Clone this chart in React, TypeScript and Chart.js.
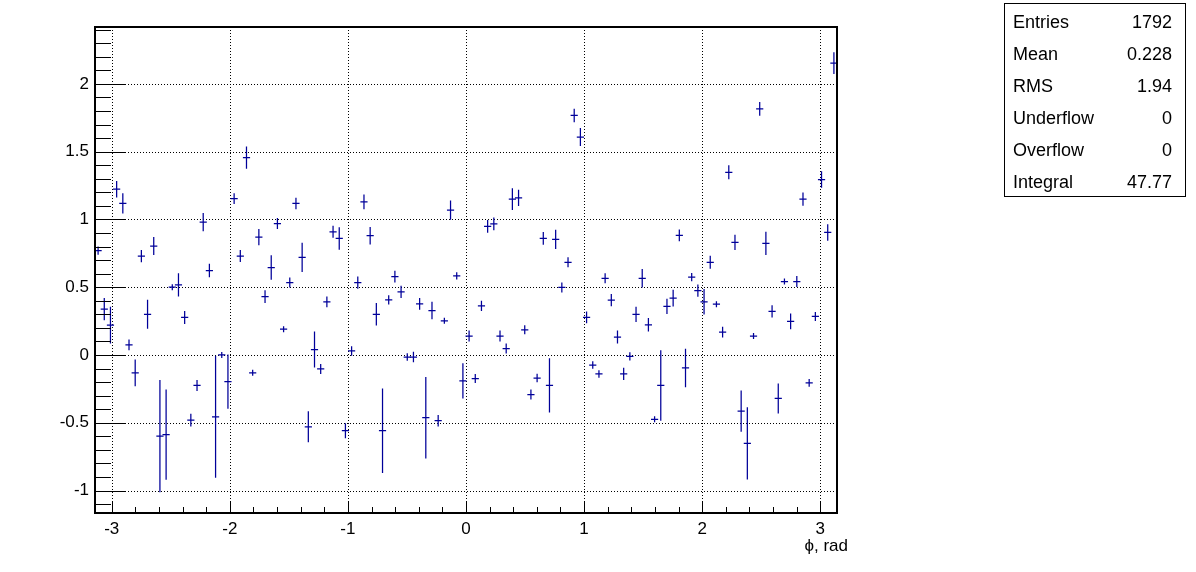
import React, { useEffect, useRef } from "react";
import { Chart, registerables } from "chart.js";

Chart.register(...registerables);

// Histogram binning (120 bins over -pi..pi)
const NBINS = 120;
const PHI_MIN = -Math.PI;
const PHI_MAX = Math.PI;

// Axis tick labels
const xTickValues = [-3, -2, -1, 0, 1, 2, 3];
const yTickValues = [-1, -0.5, 0, 0.5, 1, 1.5, 2];
const Y_MIN = -1.166;
const Y_MAX = 2.42;

// Bin contents
const binValues = [
  0.77, 0.338, 0.22, 1.223, 1.118, 0.074, -0.132, 0.73, 0.3, 0.804,
  -0.598, -0.588, 0.5, 0.517, 0.277, -0.48, -0.225, 0.98, 0.623, -0.456,
  0.0, -0.196, 1.154, 0.73, 1.456, -0.132, 0.87, 0.431, 0.645, 0.97,
  0.19, 0.534, 1.118, 0.72, -0.53, 0.04, -0.103, 0.392, 0.909, 0.86,
  -0.559, 0.03, 0.534, 1.13, 0.88, 0.3, -0.559, 0.407, 0.578, 0.466,
  -0.015, -0.015, 0.377, -0.463, 0.328, -0.485, 0.252, 1.069, 0.583, -0.191,
  0.14, -0.174, 0.363, 0.949, 0.968, 0.14, 0.047, 1.15, 1.16, 0.186,
  -0.292, -0.17, 0.86, -0.225, 0.853, 0.498, 0.684, 1.767, 1.608, 0.277,
  -0.074, -0.14, 0.566, 0.404, 0.132, -0.14, -0.01, 0.3, 0.566, 0.223,
  -0.475, -0.225, 0.358, 0.42, 0.882, -0.096, 0.574, 0.475, 0.392, 0.684,
  0.375, 0.169, 1.348, 0.831, -0.414, -0.652, 0.14, 1.816, 0.824, 0.321,
  -0.321, 0.542, 0.248, 0.542, 1.15, -0.206, 0.284, 1.294, 0.904, 2.154,
];

// Bin errors
const binErrors = [
  0.03, 0.082, 0.135, 0.061, 0.075, 0.04, 0.098, 0.045, 0.107, 0.066,
  0.414, 0.333, 0.02, 0.086, 0.048, 0.047, 0.04, 0.067, 0.05, 0.45,
  0.02, 0.2, 0.04, 0.044, 0.082, 0.02, 0.06, 0.047, 0.09, 0.04,
  0.02, 0.037, 0.043, 0.108, 0.114, 0.133, 0.037, 0.04, 0.044, 0.083,
  0.056, 0.035, 0.045, 0.055, 0.065, 0.083, 0.311, 0.034, 0.044, 0.045,
  0.027, 0.038, 0.043, 0.3, 0.065, 0.043, 0.02, 0.071, 0.027, 0.13,
  0.04, 0.033, 0.038, 0.047, 0.047, 0.04, 0.037, 0.08, 0.06, 0.033,
  0.037, 0.032, 0.047, 0.2, 0.071, 0.037, 0.037, 0.05, 0.066, 0.043,
  0.028, 0.028, 0.037, 0.045, 0.048, 0.045, 0.03, 0.056, 0.069, 0.049,
  0.02, 0.26, 0.056, 0.062, 0.043, 0.142, 0.03, 0.045, 0.094, 0.048,
  0.02, 0.04, 0.052, 0.057, 0.152, 0.266, 0.02, 0.05, 0.086, 0.045,
  0.11, 0.02, 0.058, 0.04, 0.049, 0.028, 0.034, 0.061, 0.061, 0.08,
];

// Stats box
const statsLabels = ["Entries", "Mean", "RMS", "Underflow", "Overflow", "Integral"];
const statsValues = ["1792", "0.228", "1.94", "0", "0", "47.77"];

const X_TITLE = "\u03D5, rad";
const MARK_COLOR = "#000099";
const FONT = '"Liberation Sans", Arial, Helvetica, sans-serif';

const BIN_W = (PHI_MAX - PHI_MIN) / NBINS;
const binCenters = binValues.map((_, i) => PHI_MIN + (i + 0.5) * BIN_W);

const rootPlugin = {
  id: "rootStyle",
  beforeDatasetsDraw(chart: any) {
    const { ctx, chartArea: a, scales } = chart;
    const xs = scales.x;
    const ys = scales.y;
    ctx.save();
    ctx.strokeStyle = "#000";
    ctx.lineWidth = 1;
    ctx.setLineDash([1, 2]);
    ctx.beginPath();
    for (const v of xTickValues) {
      const px = Math.round(xs.getPixelForValue(v)) + 0.5;
      ctx.moveTo(px, a.top);
      ctx.lineTo(px, a.bottom);
    }
    for (const v of yTickValues) {
      const py = Math.round(ys.getPixelForValue(v)) + 0.5;
      ctx.moveTo(a.left, py);
      ctx.lineTo(a.right, py);
    }
    ctx.stroke();
    ctx.restore();
  },
  afterDatasetsDraw(chart: any) {
    const { ctx, chartArea: a, scales } = chart;
    const xs = scales.x;
    const ys = scales.y;
    ctx.save();
    ctx.beginPath();
    ctx.rect(a.left, a.top, a.right - a.left, a.bottom - a.top);
    ctx.clip();
    ctx.strokeStyle = MARK_COLOR;
    ctx.lineWidth = 1.25;
    const data = chart.data.datasets[0].data;
    data.forEach((p: any, i: number) => {
      const err = binErrors[i];
      const cx = xs.getPixelForValue(p.x);
      const cy = ys.getPixelForValue(p.y);
      const x0 = xs.getPixelForValue(p.x - BIN_W / 2);
      const x1 = xs.getPixelForValue(p.x + BIN_W / 2);
      const yTop = ys.getPixelForValue(p.y + err);
      const yBot = ys.getPixelForValue(p.y - err);
      ctx.beginPath();
      ctx.moveTo(x0 - 0.5, cy);
      ctx.lineTo(x1 + 0.5, cy);
      ctx.moveTo(cx, Math.min(yTop, cy - 3));
      ctx.lineTo(cx, Math.max(yBot, cy + 3));
      ctx.stroke();
    });
    ctx.restore();
  },
  afterDraw(chart: any) {
    const { ctx, chartArea: a, scales } = chart;
    const xs = scales.x;
    const ys = scales.y;
    ctx.save();
    ctx.strokeStyle = "#000";
    ctx.lineWidth = 1;
    ctx.beginPath();
    // y ticks: major every 0.5, minor every 0.1
    for (let k = -12; k <= 25; k++) {
      const v = k / 10;
      if (v < Y_MIN || v > Y_MAX) continue;
      const py = Math.round(ys.getPixelForValue(v)) + 0.5;
      const len = k % 5 === 0 ? 30 : 16;
      ctx.moveTo(a.left, py);
      ctx.lineTo(a.left + len, py);
    }
    // x ticks: major every 1, minor every 0.2
    for (let k = -16; k <= 16; k++) {
      const v = k / 5;
      if (v < PHI_MIN || v > PHI_MAX) continue;
      const px = Math.round(xs.getPixelForValue(v)) + 0.5;
      const len = k % 5 === 0 ? 12 : 6;
      ctx.moveTo(px, a.bottom);
      ctx.lineTo(px, a.bottom - len);
    }
    ctx.stroke();
    // frame
    ctx.lineWidth = 2;
    ctx.strokeRect(a.left, a.top, a.right - a.left, a.bottom - a.top);
    // x title
    ctx.fillStyle = "#000";
    ctx.font = `17px ${FONT}`;
    ctx.textAlign = "right";
    ctx.textBaseline = "alphabetic";
    ctx.fillText(X_TITLE, a.right + 11, a.bottom + 38);
    ctx.restore();
  },
};

export default function App() {
  const ref = useRef<HTMLCanvasElement>(null);

  useEffect(() => {
    document.body.style.margin = "0";
    const canvas = ref.current;
    if (!canvas) return;
    const chart = new Chart(canvas, {
      type: "scatter",
      data: {
        datasets: [
          {
            data: binValues.map((v, i) => ({ x: binCenters[i], y: v })),
            pointRadius: 0,
            pointHoverRadius: 0,
            showLine: false,
            borderColor: MARK_COLOR,
            backgroundColor: MARK_COLOR,
          },
        ],
      },
      options: {
        responsive: false,
        animation: false,
        events: [],
        layout: { padding: { left: 0, top: 27, right: 359, bottom: 0 } },
        plugins: { legend: { display: false }, tooltip: { enabled: false } },
        scales: {
          x: {
            type: "linear",
            min: PHI_MIN,
            max: PHI_MAX,
            afterBuildTicks: (s: any) => {
              s.ticks = xTickValues.map((v) => ({ value: v }));
            },
            afterFit: (s: any) => {
              s.height = 59;
            },
            grid: { display: false, drawTicks: false },
            border: { display: false },
            ticks: {
              autoSkip: false,
              maxRotation: 0,
              padding: 6,
              color: "#000",
              font: { family: FONT, size: 17 },
              callback: (v: any) => String(v),
            },
          },
          y: {
            type: "linear",
            min: Y_MIN,
            max: Y_MAX,
            afterBuildTicks: (s: any) => {
              s.ticks = yTickValues.map((v) => ({ value: v }));
            },
            afterFit: (s: any) => {
              s.width = 95;
            },
            grid: { display: false, drawTicks: false },
            border: { display: false },
            ticks: {
              autoSkip: false,
              padding: 6,
              color: "#000",
              font: { family: FONT, size: 17 },
              callback: (v: any) => String(v),
            },
          },
        },
      },
      plugins: [rootPlugin],
    });
    return () => chart.destroy();
  }, []);

  return (
    <div
      style={{
        position: "relative",
        width: 1196,
        height: 572,
        background: "#fff",
        fontFamily: FONT,
        overflow: "hidden",
      }}
    >
      <canvas
        ref={ref}
        width={1196}
        height={572}
        style={{ position: "absolute", left: 0, top: 0, width: 1196, height: 572 }}
      />
      <div
        style={{
          position: "absolute",
          left: 1004,
          top: 3,
          width: 182,
          height: 194,
          border: "1px solid #000",
          boxSizing: "border-box",
          background: "#fff",
        }}
      >
        {statsLabels.map((label, i) => (
          <div
            key={label}
            style={{
              position: "absolute",
              left: 8,
              right: 13,
              top: 2 + i * 32,
              height: 32,
              display: "flex",
              justifyContent: "space-between",
              alignItems: "center",
              fontSize: 18,
              color: "#000",
              lineHeight: "32px",
            }}
          >
            <span>{label}</span>
            <span>{statsValues[i]}</span>
          </div>
        ))}
      </div>
    </div>
  );
}
